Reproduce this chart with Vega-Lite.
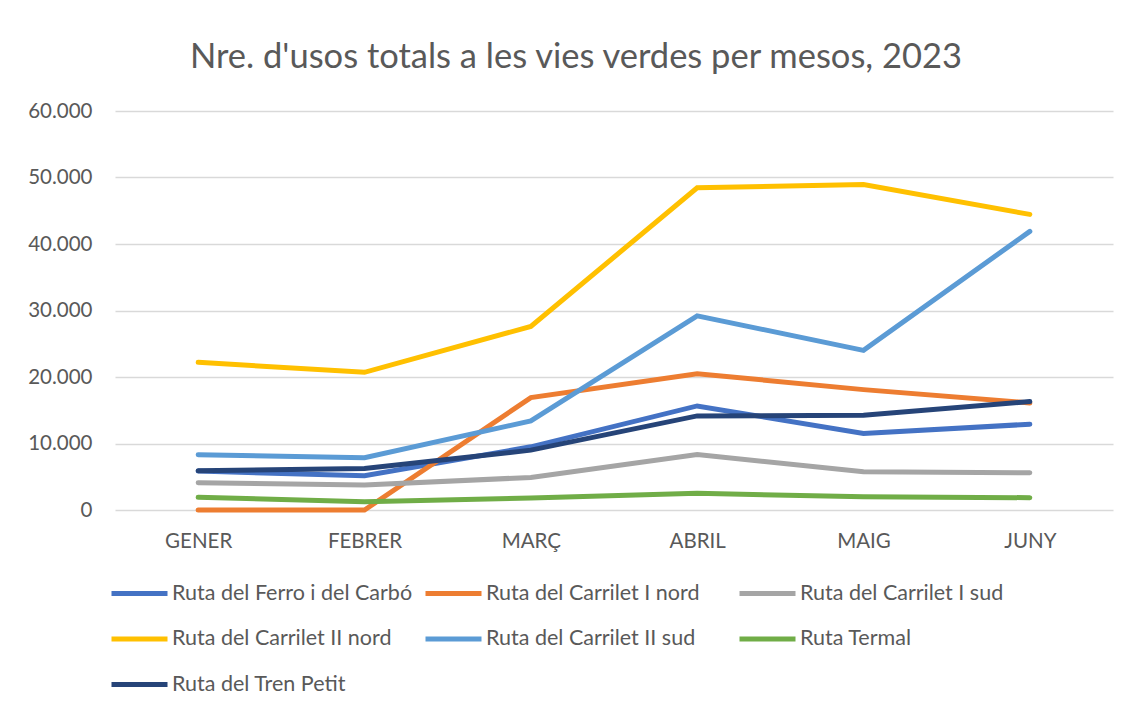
{
  "$schema": "https://vega.github.io/schema/vega-lite/v6.json",
  "width": 998,
  "height": 399,
  "autosize": {"type": "none"},
  "padding": {"left": 115, "top": 111, "right": 19, "bottom": 201},
  "background": "white",
  "title": {
    "text": "Nre. d'usos totals a les vies verdes per mesos, 2023",
    "font": "Lato",
    "fontSize": 34.5,
    "fontWeight": "normal",
    "color": "#595959",
    "anchor": "middle",
    "frame": "group",
    "baseline": "alphabetic",
    "dx": -38,
    "offset": -1
  },
  "data": {
    "values": [
      {"mes": "GENER", "ruta": "Ruta del Ferro i del Carbó", "usos": 5850},
      {"mes": "FEBRER", "ruta": "Ruta del Ferro i del Carbó", "usos": 5150},
      {"mes": "MARÇ", "ruta": "Ruta del Ferro i del Carbó", "usos": 9500},
      {"mes": "ABRIL", "ruta": "Ruta del Ferro i del Carbó", "usos": 15650},
      {"mes": "MAIG", "ruta": "Ruta del Ferro i del Carbó", "usos": 11500},
      {"mes": "JUNY", "ruta": "Ruta del Ferro i del Carbó", "usos": 12900},
      {"mes": "GENER", "ruta": "Ruta del Carrilet I nord", "usos": 0},
      {"mes": "FEBRER", "ruta": "Ruta del Carrilet I nord", "usos": 0},
      {"mes": "MARÇ", "ruta": "Ruta del Carrilet I nord", "usos": 16900},
      {"mes": "ABRIL", "ruta": "Ruta del Carrilet I nord", "usos": 20500},
      {"mes": "MAIG", "ruta": "Ruta del Carrilet I nord", "usos": 18100},
      {"mes": "JUNY", "ruta": "Ruta del Carrilet I nord", "usos": 16100},
      {"mes": "GENER", "ruta": "Ruta del Carrilet I sud", "usos": 4100},
      {"mes": "FEBRER", "ruta": "Ruta del Carrilet I sud", "usos": 3750},
      {"mes": "MARÇ", "ruta": "Ruta del Carrilet I sud", "usos": 4900},
      {"mes": "ABRIL", "ruta": "Ruta del Carrilet I sud", "usos": 8350},
      {"mes": "MAIG", "ruta": "Ruta del Carrilet I sud", "usos": 5750},
      {"mes": "JUNY", "ruta": "Ruta del Carrilet I sud", "usos": 5600},
      {"mes": "GENER", "ruta": "Ruta del Carrilet II nord", "usos": 22200},
      {"mes": "FEBRER", "ruta": "Ruta del Carrilet II nord", "usos": 20700},
      {"mes": "MARÇ", "ruta": "Ruta del Carrilet II nord", "usos": 27600},
      {"mes": "ABRIL", "ruta": "Ruta del Carrilet II nord", "usos": 48450},
      {"mes": "MAIG", "ruta": "Ruta del Carrilet II nord", "usos": 48950},
      {"mes": "JUNY", "ruta": "Ruta del Carrilet II nord", "usos": 44450},
      {"mes": "GENER", "ruta": "Ruta del Carrilet II sud", "usos": 8300},
      {"mes": "FEBRER", "ruta": "Ruta del Carrilet II sud", "usos": 7850},
      {"mes": "MARÇ", "ruta": "Ruta del Carrilet II sud", "usos": 13400},
      {"mes": "ABRIL", "ruta": "Ruta del Carrilet II sud", "usos": 29200},
      {"mes": "MAIG", "ruta": "Ruta del Carrilet II sud", "usos": 24000},
      {"mes": "JUNY", "ruta": "Ruta del Carrilet II sud", "usos": 41900},
      {"mes": "GENER", "ruta": "Ruta Termal", "usos": 1900},
      {"mes": "FEBRER", "ruta": "Ruta Termal", "usos": 1250},
      {"mes": "MARÇ", "ruta": "Ruta Termal", "usos": 1800},
      {"mes": "ABRIL", "ruta": "Ruta Termal", "usos": 2500},
      {"mes": "MAIG", "ruta": "Ruta Termal", "usos": 2000},
      {"mes": "JUNY", "ruta": "Ruta Termal", "usos": 1850},
      {"mes": "GENER", "ruta": "Ruta del Tren Petit", "usos": 5900},
      {"mes": "FEBRER", "ruta": "Ruta del Tren Petit", "usos": 6250},
      {"mes": "MARÇ", "ruta": "Ruta del Tren Petit", "usos": 9000},
      {"mes": "ABRIL", "ruta": "Ruta del Tren Petit", "usos": 14150},
      {"mes": "MAIG", "ruta": "Ruta del Tren Petit", "usos": 14250},
      {"mes": "JUNY", "ruta": "Ruta del Tren Petit", "usos": 16300}
    ]
  },
  "mark": {"type": "line", "strokeWidth": 5, "strokeCap": "round"},
  "encoding": {
    "x": {
      "field": "mes",
      "type": "ordinal",
      "sort": ["GENER", "FEBRER", "MARÇ", "ABRIL", "MAIG", "JUNY"],
      "scale": {"padding": 0.5},
      "axis": {
        "title": null,
        "labelAngle": 0,
        "ticks": false,
        "domain": false,
        "labelPadding": 21,
        "labelFont": "Lato",
        "labelFontSize": 20.5,
        "labelColor": "#595959"
      }
    },
    "y": {
      "field": "usos",
      "type": "quantitative",
      "scale": {"domain": [0, 60000], "nice": false},
      "axis": {
        "title": null,
        "values": [0, 10000, 20000, 30000, 40000, 50000, 60000],
        "labelExpr": "replace(format(datum.value, ','), ',', '.')",
        "ticks": false,
        "domain": false,
        "labelPadding": 23,
        "labelFont": "Lato",
        "labelFontSize": 20.5,
        "labelColor": "#595959",
        "gridColor": "#D9D9D9",
        "gridWidth": 1.5
      }
    },
    "color": {
      "field": "ruta",
      "type": "nominal",
      "scale": {
        "domain": ["Ruta del Ferro i del Carbó", "Ruta del Carrilet I nord", "Ruta del Carrilet I sud", "Ruta del Carrilet II nord", "Ruta del Carrilet II sud", "Ruta Termal", "Ruta del Tren Petit"],
        "range": ["#4472C4", "#ED7D31", "#A5A5A5", "#FFC000", "#5B9BD5", "#70AD47", "#264478"]
      },
      "legend": {
        "title": null,
        "orient": "none",
        "legendX": -6,
        "legendY": 452,
        "direction": "horizontal",
        "columns": 3,
        "gridAlign": "all",
        "columnPadding": 2,
        "rowPadding": 4.5,
        "symbolType": "stroke",
        "symbolSize": 3136,
        "symbolStrokeWidth": 5,
        "labelOffset": 2,
        "labelFont": "Lato",
        "labelFontSize": 21.5,
        "labelColor": "#595959",
        "labelLimit": 400
      }
    }
  },
  "config": {
    "view": {"stroke": null}
  }
}
